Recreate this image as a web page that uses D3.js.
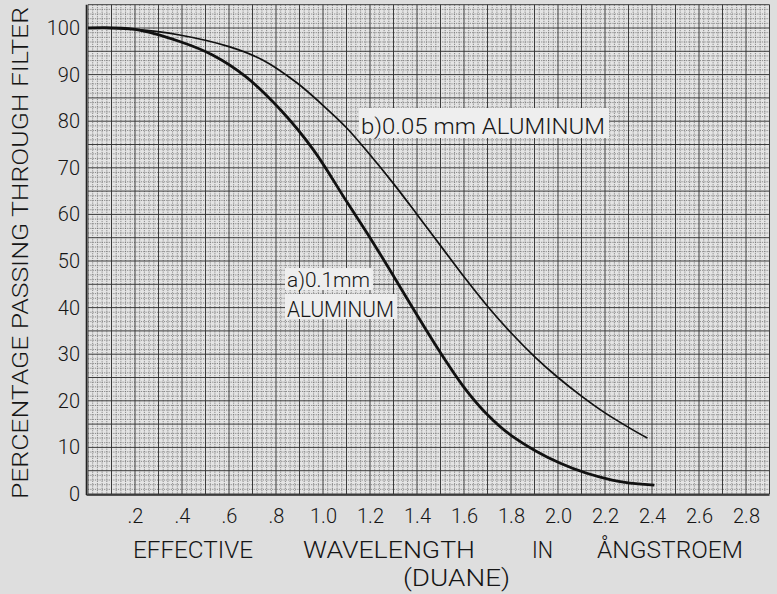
<!DOCTYPE html>
<html><head><meta charset="utf-8">
<script src="https://cdn.jsdelivr.net/npm/d3@7"></script>
<style>
html,body{margin:0;padding:0;background:#dedede;}
svg{display:block;}
text{font-family:Roboto,"Open Sans",sans-serif;font-weight:300;fill:#151515;}
</style></head>
<body><svg id="c" width="777" height="594"></svg>
<script>
// Curve a) 0.1 mm aluminum
const wavelengthA = [0, 0.2, 0.39, 0.53, 0.67, 0.82, 0.96, 1.1, 1.2, 1.3, 1.4, 1.5, 1.6, 1.7, 1.8, 2.01, 2.23, 2.41];
const percentA    = [100, 99.7, 97.1, 94.2, 89.6, 82.4, 73.8, 62.8, 55.0, 46.8, 38.4, 30.3, 22.9, 17.0, 12.6, 6.6, 3.0, 1.9];
// Curve b) 0.05 mm aluminum
const wavelengthB = [0, 0.2, 0.39, 0.6, 0.745, 0.89, 1.0, 1.1, 1.2, 1.3, 1.4, 1.5, 1.6, 1.7, 1.8, 1.9, 2.0, 2.1, 2.2, 2.3, 2.38];
const percentB    = [100, 99.7, 98.5, 96.0, 93.1, 88.2, 83.4, 78.6, 72.8, 66.6, 60.0, 53.3, 46.6, 40.3, 34.6, 29.5, 25.0, 21.0, 17.4, 14.3, 12.0];
const xTickValues = [0.2, 0.4, 0.6, 0.8, 1.0, 1.2, 1.4, 1.6, 1.8, 2.0, 2.2, 2.4, 2.6, 2.8];
const xTickLabels = [".2", ".4", ".6", ".8", "1.0", "1.2", "1.4", "1.6", "1.8", "2.0", "2.2", "2.4", "2.6", "2.8"];
const yTickValues = [0, 10, 20, 30, 40, 50, 60, 70, 80, 90, 100];
const yTickLabels = ["0", "10", "20", "30", "40", "50", "60", "70", "80", "90", "100"];
const yTitle = "PERCENTAGE PASSING THROUGH FILTER";
const xTitleWords = ["EFFECTIVE", "WAVELENGTH", "IN", "ÅNGSTROEM"];
const xSubTitle = "(DUANE)";
const labelA = ["a)0.1mm", "ALUMINUM"];
const labelB = "b)0.05 mm  ALUMINUM";

const svg = d3.select("#c");
const x = d3.scaleLinear().domain([0, 2.9]).range([88, 769.5]);
const y = d3.scaleLinear().domain([0, 105]).range([494, 4.7]);

// grid
const g = svg.append("g");
g.append("rect").attr("x", x(0)).attr("y", y(105)).attr("width", x(2.9)-x(0)).attr("height", y(0)-y(105)).attr("fill", "#e4e4e4");
const minorX = d3.range(0, 146).map(i => i*0.02).filter(v => Math.round(v*50) % 5 !== 0);
const minorY = d3.range(0, 106).filter(v => v % 5 !== 0);
g.selectAll(".mx").data(minorX).join("line")
  .attr("x1", d => x(d)).attr("x2", d => x(d)).attr("y1", y(105)).attr("y2", y(0))
  .attr("stroke", "#6a6a6a").attr("stroke-width", 0.75).attr("stroke-dasharray", "1.2,1.1");
g.selectAll(".my").data(minorY).join("line")
  .attr("y1", d => y(d)).attr("y2", d => y(d)).attr("x1", x(0)).attr("x2", x(2.9))
  .attr("stroke", "#6a6a6a").attr("stroke-width", 0.75).attr("stroke-dasharray", "1.2,1.1");
const majorX = d3.range(0, 30).map(i => i*0.1);
const majorY = d3.range(0, 106, 5);
g.selectAll(".Mx").data(majorX).join("line")
  .attr("x1", d => x(d)).attr("x2", d => x(d)).attr("y1", y(105)).attr("y2", y(0))
  .attr("stroke", "#333").attr("stroke-width", 0.95);
g.selectAll(".My").data(majorY).join("line")
  .attr("y1", d => y(d)).attr("y2", d => y(d)).attr("x1", x(0)).attr("x2", x(2.9))
  .attr("stroke", "#333").attr("stroke-width", 0.95);
g.append("line").attr("x1", x(0)-1.5).attr("x2", x(0)-1.5).attr("y1", y(105)).attr("y2", y(0)+1)
  .attr("stroke", "#222").attr("stroke-width", 1.6);
g.append("line").attr("x1", x(0)-1.5).attr("x2", x(2.9)).attr("y1", y(0)+1).attr("y2", y(0)+1)
  .attr("stroke", "#222").attr("stroke-width", 1.6);

// axes (d3 axes, styled to show labels only)
const xAxis = svg.append("g").attr("transform", `translate(0,${y(0)})`)
  .call(d3.axisBottom(x).tickValues(xTickValues).tickFormat((d,i) => xTickLabels[i]).tickSize(0).tickPadding(15));
xAxis.select(".domain").remove();
xAxis.selectAll("text").attr("font-size", 20).style("font-family", "Roboto,sans-serif").style("font-weight", 300).attr("fill", "#151515");

const yAxis = svg.append("g").attr("transform", `translate(80,0)`)
  .call(d3.axisLeft(y).tickValues(yTickValues).tickFormat((d,i) => yTickLabels[i]).tickSize(0).tickPadding(0));
yAxis.select(".domain").remove();
yAxis.selectAll("text").attr("font-size", 20).style("font-family", "Roboto,sans-serif").style("font-weight", 300).attr("fill", "#151515");

// titles
svg.append("text").attr("transform", "translate(28,253) rotate(-90)")
  .attr("text-anchor", "middle").attr("font-size", 22)
  .attr("textLength", 492).attr("lengthAdjust", "spacingAndGlyphs").text(yTitle);
const wordPos = [[133, 120], [303, 172], [532, 21], [597, 146]];
xTitleWords.forEach((w, i) => {
  svg.append("text").attr("x", wordPos[i][0]).attr("y", 558).attr("font-size", 23)
    .attr("textLength", wordPos[i][1]).attr("lengthAdjust", "spacingAndGlyphs").text(w);
});
svg.append("text").attr("x", 403).attr("y", 586).attr("font-size", 23)
  .attr("textLength", 107).attr("lengthAdjust", "spacingAndGlyphs").text(xSubTitle);

// curves
const line = d3.line().x(d => x(d[0])).y(d => y(d[1])).curve(d3.curveCatmullRom.alpha(0.5));
const dataA = wavelengthA.map((v, i) => [v, percentA[i]]);
const dataB = wavelengthB.map((v, i) => [v, percentB[i]]);
svg.append("path").datum(dataB).attr("d", line).attr("fill", "none").attr("stroke", "#111").attr("stroke-width", 1.7);
svg.append("path").datum(dataA).attr("d", line).attr("fill", "none").attr("stroke", "#111").attr("stroke-width", 2.8);

// curve labels with light backgrounds
svg.append("rect").attr("x", 359).attr("y", 108).attr("width", 250).attr("height", 30).attr("fill", "#eeeeee");
svg.append("text").attr("x", 361).attr("y", 134).attr("font-size", 22)
  .attr("textLength", 244).attr("lengthAdjust", "spacingAndGlyphs").text(labelB);
svg.append("rect").attr("x", 285).attr("y", 268).attr("width", 88).attr("height", 22).attr("fill", "#eeeeee");
svg.append("rect").attr("x", 285).attr("y", 294).attr("width", 112).attr("height", 25).attr("fill", "#eeeeee");
svg.append("text").attr("x", 287).attr("y", 287).attr("font-size", 20)
  .attr("textLength", 83).attr("lengthAdjust", "spacingAndGlyphs").text(labelA[0]);
svg.append("text").attr("x", 287).attr("y", 317).attr("font-size", 22)
  .attr("textLength", 107).attr("lengthAdjust", "spacingAndGlyphs").text(labelA[1]);
</script></body></html>
